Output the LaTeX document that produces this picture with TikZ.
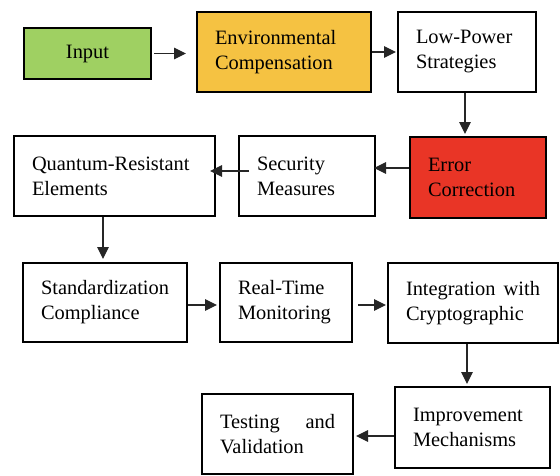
\documentclass[tikz,border=0pt]{standalone}
\usepackage{fontspec}
\setmainfont{Liberation Serif}
\usetikzlibrary{arrows.meta}
\definecolor{ingreen}{HTML}{9FD062}
\definecolor{envorange}{HTML}{F5C242}
\definecolor{errred}{HTML}{E93526}
\tikzset{
  box/.style={draw=black, line width=2pt, rectangle, inner xsep=18pt, inner ysep=0pt,
    align=left, font=\fontsize{20.4}{25}\selectfont},
  arr/.style={draw=black!85, line width=1.1pt, -{Triangle[length=12pt,width=11.5pt]}}
}
\begin{document}
\begin{tikzpicture}[x=1pt,y=-1pt]
\useasboundingbox (0,0) rectangle (560,475);
% row 1
\node[box, fill=ingreen, align=center, text width=91pt, minimum height=51pt] (in) at (87.5,53.5) {Input};
\node[box, fill=envorange, text width=138pt, minimum height=80pt] (env) at (284,52) {Environmental\\Compensation};
\node[box, fill=white, text width=102pt, minimum height=80pt] (low) at (467,52) {Low-Power\\Strategies};
% row 2
\node[box, fill=white, text width=165pt, minimum height=80pt] (qre) at (114.5,176) {Quantum-Resistant\\Elements};
\node[box, fill=white, text width=100pt, minimum height=80pt] (sec) at (307,176) {Security\\Measures};
\node[box, fill=errred, text width=100pt, minimum height=81pt] (err) at (478,177.5) {Error\\Correction};
% row 3
\node[box, fill=white, text width=128pt, minimum height=79pt] (std) at (105,302.5) {Standardization\\Compliance};
\node[box, fill=white, text width=96pt, minimum height=79pt] (rtm) at (286,302.5) {Real-Time\\Monitoring};
\node[box, fill=white, text width=134pt, minimum height=80pt] (int) at (473,303) {Integration\hfill with\\Cryptographic};
% row 4
\node[box, fill=white, text width=115pt, minimum height=80pt] (tst) at (277.5,434) {Testing\hfill and\\Validation};
\node[box, fill=white, text width=119pt, minimum height=81pt] (imp) at (472.5,427.5) {Improvement\\Mechanisms};
% connectors
\draw[arr] ([xshift=2pt]in.east) -- ([xshift=-10pt]in.east -| env.west);
\draw[arr] (env.east) -- ([xshift=-1pt]env.east -| low.west);
\draw[arr] ([xshift=-2pt]low.south) -- ([xshift=-2pt,yshift=2pt]low.south |- err.north);
\draw[arr] ([yshift=9.5pt]err.west) -- ([yshift=9.5pt,xshift=-2pt]err.west -| sec.east);
\draw[arr] ([xshift=11pt,yshift=5pt]sec.west) -- ([xshift=-6pt,yshift=5pt]sec.west -| qre.east);
\draw[arr] ([xshift=-11.5pt]qre.south) -- ([xshift=-11.5pt,yshift=3pt]qre.south |- std.north);
\draw[arr] ([yshift=-2.5pt]std.east) -- ([yshift=-2.5pt,xshift=-2pt]std.east -| rtm.west);
\draw[arr] ([xshift=5pt,yshift=-2.5pt]rtm.east) -- ([yshift=-2.5pt,xshift=-1pt]rtm.east -| int.west);
\draw[arr] ([xshift=-6pt]int.south) -- ([xshift=-6pt,yshift=2pt]int.south |- imp.north);
\draw[arr] ([yshift=-8.5pt]imp.west) -- ([yshift=-8.5pt,xshift=2pt]imp.west -| tst.east);
\end{tikzpicture}
\end{document}
